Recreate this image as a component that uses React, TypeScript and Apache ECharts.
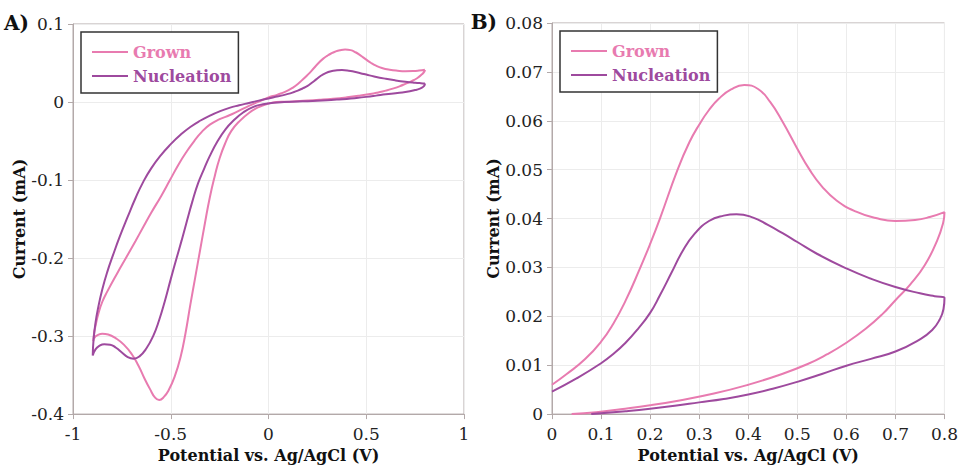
import React, { useEffect, useRef } from "react";
import * as echarts from "echarts";

// ---- Data (potential V, current mA) ----
// Panel B (zoomed positive region), Grown
const grownAnodicB: number[][] = [
  [0, 0.006], [0.03, 0.0082], [0.067, 0.0112], [0.1, 0.0148], [0.125, 0.0185], [0.15, 0.0232],
  [0.178, 0.0295], [0.2, 0.0348], [0.22, 0.04], [0.256, 0.05], [0.28, 0.0556], [0.3, 0.0592],
  [0.32, 0.0622], [0.34, 0.0645], [0.365, 0.0664], [0.392, 0.0673], [0.42, 0.0665], [0.445, 0.0638],
  [0.47, 0.0598], [0.5, 0.0543], [0.525, 0.05], [0.55, 0.0466], [0.58, 0.0437], [0.62, 0.0414],
  [0.66, 0.0401], [0.7, 0.0395], [0.74, 0.0397], [0.77, 0.0403], [0.8, 0.0413],
];
const grownCathodicB: number[][] = [
  [0.8, 0.0413], [0.797, 0.039], [0.785, 0.0355], [0.76, 0.0305], [0.73, 0.0265], [0.7, 0.0233],
  [0.674, 0.0205], [0.64, 0.0175], [0.6, 0.0146], [0.56, 0.0122], [0.52, 0.0102], [0.46, 0.0079],
  [0.4, 0.006], [0.33, 0.0042], [0.26, 0.0028], [0.2, 0.0018], [0.14, 0.001], [0.09, 0.0004],
  [0.04, 0],
];
// Panel B, Nucleation
const nucAnodicB: number[][] = [
  [0, 0.0046], [0.05, 0.0073], [0.1, 0.0104], [0.125, 0.0123], [0.15, 0.0146], [0.175, 0.0174],
  [0.2, 0.0207], [0.22, 0.0243], [0.244, 0.029], [0.266, 0.0333], [0.29, 0.0368], [0.32, 0.0395],
  [0.35, 0.0406], [0.376, 0.0409], [0.41, 0.0402], [0.44, 0.0387], [0.47, 0.037], [0.5, 0.0352],
  [0.54, 0.0328], [0.6, 0.0298], [0.65, 0.0277], [0.7, 0.026], [0.75, 0.0247], [0.78, 0.0241],
  [0.8, 0.0238],
];
const nucCathodicB: number[][] = [
  [0.8, 0.0238], [0.798, 0.0215], [0.79, 0.0193], [0.775, 0.0172], [0.75, 0.0153], [0.7, 0.0128],
  [0.65, 0.0113], [0.6, 0.0099], [0.55, 0.0082], [0.5, 0.0066], [0.45, 0.0052], [0.4, 0.004],
  [0.35, 0.0031], [0.3, 0.0024], [0.25, 0.0017], [0.2, 0.0011], [0.15, 0.0006], [0.08, 0],
];
// Panel A negative-potential parts, Grown
const grownCathodicA: number[][] = [
  [0, -0.002], [-0.05, -0.0065], [-0.1, -0.014], [-0.15, -0.025], [-0.19, -0.037],
  [-0.22, -0.052], [-0.25, -0.072], [-0.275, -0.095], [-0.3, -0.122], [-0.325, -0.155],
  [-0.35, -0.19], [-0.375, -0.225], [-0.4, -0.26], [-0.425, -0.297], [-0.45, -0.327],
  [-0.48, -0.352], [-0.51, -0.369], [-0.535, -0.378], [-0.559, -0.382], [-0.58, -0.379],
  [-0.606, -0.368], [-0.635, -0.354], [-0.665, -0.338], [-0.7, -0.323], [-0.74, -0.311],
  [-0.78, -0.303], [-0.82, -0.298], [-0.85, -0.297], [-0.875, -0.299], [-0.89, -0.302],
  [-0.896, -0.3065],
];
const grownAnodicA: number[][] = [
  [-0.893, -0.298], [-0.885, -0.287], [-0.87, -0.271], [-0.85, -0.256], [-0.825, -0.243],
  [-0.775, -0.22], [-0.725, -0.198], [-0.68, -0.178], [-0.64, -0.16], [-0.6, -0.142],
  [-0.548, -0.12], [-0.504, -0.1], [-0.46, -0.08], [-0.42, -0.064], [-0.38, -0.05],
  [-0.34, -0.038], [-0.3, -0.029], [-0.25, -0.022], [-0.2, -0.017], [-0.15, -0.011],
  [-0.1, -0.005], [-0.05, 0.0005],
];
// Panel A negative-potential parts, Nucleation
const nucCathodicA: number[][] = [
  [0.03, -0.0008], [-0.02, -0.0025], [-0.08, -0.0065], [-0.13, -0.0135], [-0.18, -0.024],
  [-0.22, -0.035], [-0.26, -0.05], [-0.3, -0.069], [-0.33, -0.086], [-0.36, -0.104],
  [-0.39, -0.128], [-0.42, -0.155], [-0.445, -0.178], [-0.47, -0.2], [-0.5, -0.227],
  [-0.53, -0.255], [-0.56, -0.28], [-0.59, -0.3], [-0.625, -0.316], [-0.66, -0.326],
  [-0.69, -0.329], [-0.72, -0.327], [-0.75, -0.321], [-0.78, -0.315], [-0.81, -0.311],
  [-0.84, -0.3105], [-0.865, -0.3125], [-0.885, -0.317], [-0.899, -0.325],
];
const nucAnodicA: number[][] = [
  [-0.895, -0.305], [-0.885, -0.283], [-0.87, -0.262], [-0.85, -0.24], [-0.825, -0.218],
  [-0.795, -0.196], [-0.76, -0.172], [-0.72, -0.147], [-0.68, -0.123], [-0.64, -0.102],
  [-0.6, -0.085], [-0.55, -0.068], [-0.5, -0.054], [-0.45, -0.042], [-0.4, -0.032],
  [-0.35, -0.024], [-0.3, -0.0175], [-0.25, -0.012], [-0.2, -0.0075], [-0.15, -0.0042],
  [-0.1, -0.0012], [-0.05, 0.0018],
];

const seriesNames = ["Grown", "Nucleation"];
const panelLabels = ["A)", "B)"];
const xAxisTitle = "Potential vs. Ag/AgCl (V)";
const yAxisTitle = "Current (mA)";

const PINK = "#e87bb0";
const PURPLE = "#9e4a9e";
const AXIS = "#b3a9a9";
const GRID = "#ececec";
const FONT = "DejaVu Serif";

export default function App() {
  const ref = useRef<HTMLDivElement>(null);
  useEffect(() => {
    if (!ref.current) return;
    const chart = echarts.init(ref.current, undefined, { renderer: "svg" });

    const grownA = [...grownCathodicB, ...grownCathodicA, ...grownAnodicA, ...grownAnodicB];
    const nucA = [...nucCathodicB, ...nucCathodicA, ...nucAnodicA, ...nucAnodicB];
    const grownB = [...grownAnodicB, ...grownCathodicB];
    const nucB = [...nucAnodicB, ...nucCathodicB];

    const axisCommon = {
      type: "value" as const,
      axisLine: { show: true, onZero: false, lineStyle: { color: AXIS, width: 1 } },
      axisTick: { show: true, length: 5, lineStyle: { color: AXIS } },
      axisLabel: { color: "#222", fontFamily: FONT, fontSize: 17, margin: 9 },
      splitLine: { show: true, lineStyle: { color: GRID, width: 1 } },
      nameLocation: "middle" as const,
      nameTextStyle: { color: "#111", fontFamily: FONT, fontWeight: "bold" as const, fontSize: 16 },
    };

    const legendCommon = {
      orient: "vertical" as const,
      icon: "rect",
      itemWidth: 36,
      itemHeight: 2,
      itemGap: 8,
      borderColor: "#333",
      borderWidth: 1.5,
      padding: [12, 7, 9, 11],
      backgroundColor: "#fff",
      selectedMode: false,
      textStyle: { fontFamily: FONT, fontWeight: "bold" as const, fontSize: 16 },
      data: [
        { name: seriesNames[0], textStyle: { color: PINK } },
        { name: seriesNames[1], textStyle: { color: PURPLE } },
      ],
    };

    const lineSeries = (name: string, color: string, idx: number, data: number[][]) => ({
      type: "line" as const,
      name,
      xAxisIndex: idx,
      yAxisIndex: idx,
      data,
      showSymbol: false,
      symbol: "none",
      smooth: 0.5,
      clip: true,
      lineStyle: { color, width: 2 },
      itemStyle: { color },
    });

    chart.setOption({
      animation: false,
      backgroundColor: "#fff",
      textStyle: { fontFamily: FONT },
      grid: [
        { left: 73, top: 24, width: 391, height: 391, show: true, borderColor: AXIS, borderWidth: 1 },
        { left: 552, top: 23, width: 393, height: 393, show: true, borderColor: AXIS, borderWidth: 1 },
      ],
      xAxis: [
        { ...axisCommon, gridIndex: 0, min: -1, max: 1, interval: 0.5, name: xAxisTitle, nameGap: 30,
          axisLabel: { ...axisCommon.axisLabel, margin: 11 } },
        { ...axisCommon, gridIndex: 1, min: 0, max: 0.8, interval: 0.1, name: xAxisTitle, nameGap: 30,
          axisLabel: { ...axisCommon.axisLabel, margin: 11 } },
      ],
      yAxis: [
        { ...axisCommon, gridIndex: 0, min: -0.4, max: 0.1, interval: 0.1, name: yAxisTitle, nameGap: 46 },
        { ...axisCommon, gridIndex: 1, min: 0, max: 0.08, interval: 0.01, name: yAxisTitle, nameGap: 51 },
      ],
      legend: [
        { ...legendCommon, left: 81, top: 32 },
        { ...legendCommon, left: 560, top: 31 },
      ],
      graphic: [
        { type: "text", x: 29, y: 23, style: { text: panelLabels[0], fill: "#111", font: `bold 20px "${FONT}"`, textAlign: "right", textVerticalAlign: "middle" } },
        { type: "text", x: 497, y: 22, style: { text: panelLabels[1], fill: "#111", font: `bold 20px "${FONT}"`, textAlign: "right", textVerticalAlign: "middle" } },
      ],
      series: [
        lineSeries(seriesNames[0], PINK, 0, grownA),
        lineSeries(seriesNames[1], PURPLE, 0, nucA),
        lineSeries(seriesNames[0], PINK, 1, grownB),
        lineSeries(seriesNames[1], PURPLE, 1, nucB),
      ],
    });
    return () => chart.dispose();
  }, []);
  return (
    <div
      ref={ref}
      style={{ position: "absolute", left: 0, top: 0, width: 961, height: 468 }}
    />
  );
}
